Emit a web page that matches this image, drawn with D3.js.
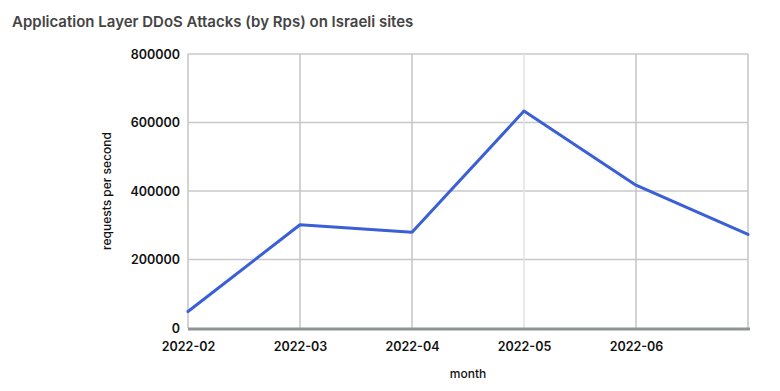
<!DOCTYPE html>
<html>
<head>
<meta charset="utf-8">
<script src="https://cdn.jsdelivr.net/npm/d3@7/dist/d3.min.js"></script>
<style>
  html, body { margin: 0; padding: 0; background: #fff; }
  svg { display: block; font-family: Inter, "Open Sans", Roboto, sans-serif; }
</style>
</head>
<body>
<svg id="chart" width="780" height="391"></svg>
<script>
const months = ["2022-02", "2022-03", "2022-04", "2022-05", "2022-06", "2022-07"];
const monthLabels = ["2022-02", "2022-03", "2022-04", "2022-05", "2022-06", ""];
const rps = [48000, 301500, 279500, 633500, 417000, 273500];
const yTicks = [0, 200000, 400000, 600000, 800000];

const svg = d3.select("#chart");
const margin = { left: 188, right: 32, top: 54, bottom: 63 };
const W = 780, H = 391;

const x = d3.scalePoint().domain(months).range([margin.left, W - margin.right]);
const y = d3.scaleLinear().domain([0, 800000]).range([H - margin.bottom, margin.top]);

// title
svg.append("text").attr("x", 12).attr("y", 27)
  .attr("font-size", 15).attr("font-weight", 600).attr("fill", "#444")
  .text("Application Layer DDoS Attacks (by Rps) on Israeli sites");

// horizontal grid
svg.append("g").selectAll("line").data(yTicks.filter(d => d > 0)).join("line")
  .attr("x1", margin.left).attr("x2", W - margin.right)
  .attr("y1", d => y(d)).attr("y2", d => y(d))
  .attr("stroke", "#c8c8c8").attr("stroke-width", 1.5);

// vertical grid
svg.append("g").selectAll("line").data(months).join("line")
  .attr("x1", d => x(d)).attr("x2", d => x(d))
  .attr("y1", y(800000)).attr("y2", y(0))
  .attr("stroke", (d, i) => i === 3 ? "#e2e2e2" : "#c4c4c4")
  .attr("stroke-width", 1.5);

// y axis labels
const yAxis = d3.axisLeft(y).tickValues(yTicks).tickSize(0).tickPadding(8).tickFormat(d3.format("d"));
const gy = svg.append("g").attr("transform", `translate(${margin.left},0)`).call(yAxis);
gy.select(".domain").remove();
gy.selectAll("text").attr("font-size", 12.5).attr("font-weight", 600).attr("fill", "#111")
  .attr("font-family", "Inter, sans-serif");

// x axis labels
const xAxis = d3.axisBottom(x).tickSize(0).tickPadding(14).tickFormat((d, i) => monthLabels[i]);
const gx = svg.append("g").attr("transform", `translate(0,${y(0)})`).call(xAxis);
gx.select(".domain").remove();
gx.selectAll("text").attr("font-size", 12.5).attr("font-weight", 600).attr("fill", "#111")
  .attr("font-family", "Inter, sans-serif");

// baseline
svg.append("line")
  .attr("x1", margin.left).attr("x2", W - margin.right + 2)
  .attr("y1", y(0) + 1).attr("y2", y(0) + 1)
  .attr("stroke", "#8f9394").attr("stroke-width", 3);

// line
const line = d3.line().x((d, i) => x(months[i])).y(d => y(d));
svg.append("path").datum(rps)
  .attr("d", line)
  .attr("fill", "none").attr("stroke", "#3a5fd6").attr("stroke-width", 3)
  .attr("stroke-linejoin", "round").attr("stroke-linecap", "round");

// axis titles
svg.append("text").attr("x", (margin.left + W - margin.right) / 2).attr("y", 378)
  .attr("text-anchor", "middle").attr("font-size", 12).attr("font-weight", 500).attr("fill", "#111")
  .text("month");
svg.append("text")
  .attr("transform", `translate(111,${(y(0) + y(800000)) / 2}) rotate(-90)`)
  .attr("text-anchor", "middle").attr("font-size", 12).attr("font-weight", 500).attr("fill", "#111")
  .text("requests per second");
</script>
</body>
</html>
